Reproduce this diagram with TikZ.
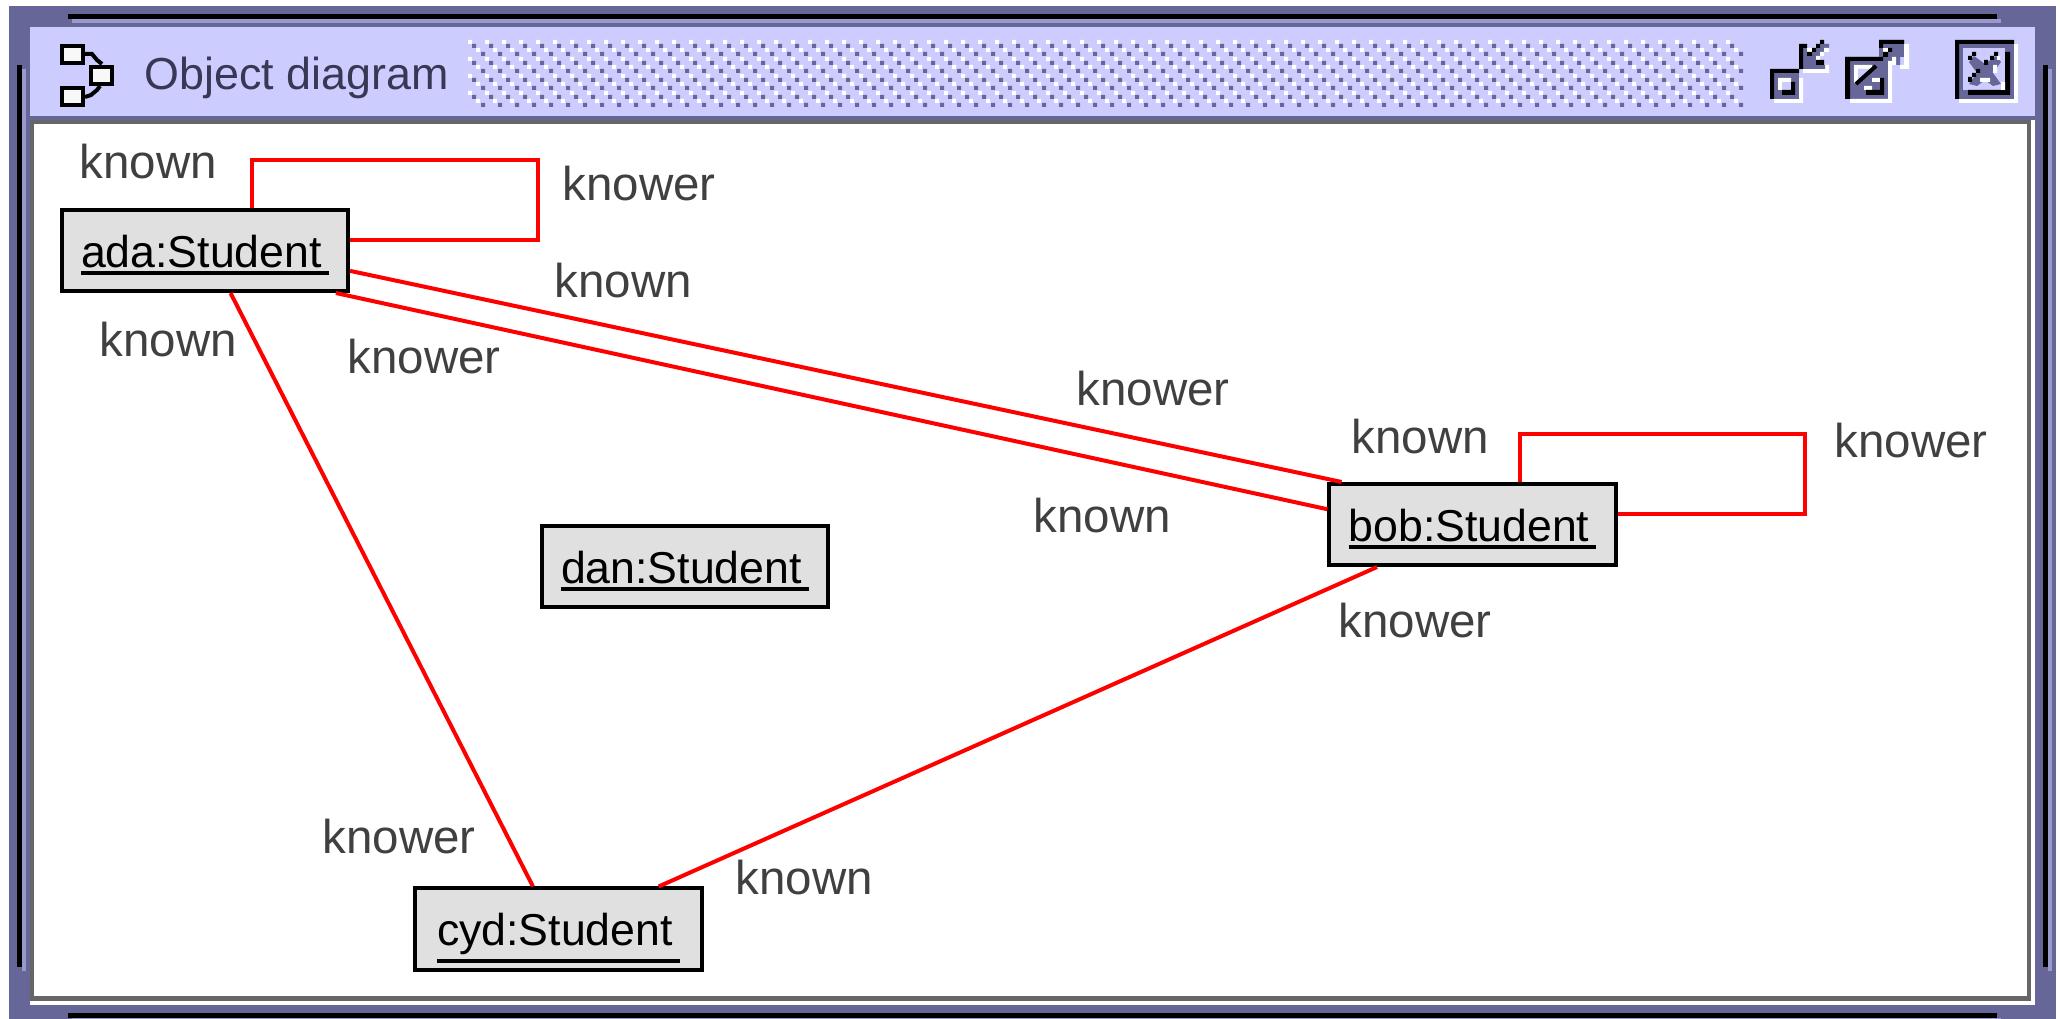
\documentclass[tikz,border=0pt]{standalone}
\usepackage{fontspec}
\setmainfont{Liberation Sans}
\definecolor{framepurple}{HTML}{666699}
\definecolor{framelight}{HTML}{9999CC}
\definecolor{barlilac}{HTML}{CCCCFF}
\definecolor{panegray}{HTML}{666666}
\definecolor{boxgray}{HTML}{E0E0E0}
\definecolor{labelgray}{HTML}{404040}
\definecolor{linkred}{HTML}{FF0000}
\definecolor{iconwhite}{HTML}{F8F8F8}
\newcommand{\objname}[1]{\vtop{\hbox{#1\kern 2pt}\kern 1.1pt\hrule height 1.1pt}}
\begin{document}
\begin{tikzpicture}[x=0.01cm,y=-0.01cm]
\tikzstyle{every node}+=[inner sep=0pt]
\tikzstyle{object}=[draw=black,line width=0.04cm,fill=boxgray,minimum width=2.86cm,minimum height=0.81cm,text height=0.43cm,text depth=0.1cm,font=\fontsize{12.7pt}{14pt}\selectfont]
\tikzstyle{rolelabel}=[anchor=base west,text=labelgray,font=\fontsize{13.5pt}{15pt}\selectfont]
\tikzstyle{link}=[draw=linkred,line width=0.04cm]
\useasboundingbox (0,0) rectangle (2060,1019);
% window frame
\fill [framepurple] (9,6) rectangle (2056,1019);
\fill [black] (68,14) rectangle (1997,19);
\fill [framelight] (72,19) rectangle (2001,23);
\fill [black] (68,1013) rectangle (1997,1018);
\fill [framelight] (72,1018) rectangle (2001,1019);
\fill [black] (17,65) rectangle (22,967);
\fill [framelight] (22,69) rectangle (26,971);
\fill [black] (2043,65) rectangle (2048,967);
\fill [framelight] (2048,69) rectangle (2052,971);
\fill [barlilac] (30,27) rectangle (2035,116);
\fill [white] (30,116) rectangle (2035,1005);
\fill [panegray] (30,120) rectangle (2031,1001);
\fill [framepurple] (30,116) rectangle (2035,120);
\fill [white] (34,124) rectangle (2027,996);
% title bar
\draw [black,line width=0.04cm,fill=iconwhite] (62,46) rectangle (83,63);
\draw [black,line width=0.04cm,fill=iconwhite] (91,67) rectangle (112,84);
\draw [black,line width=0.04cm,fill=iconwhite] (62,88) rectangle (83,105);
\draw [black,line width=0.04cm] (85,54) -- (92,54) -- (97,60) -- (102,64);
\draw [black,line width=0.04cm] (85,97) -- (91,95) -- (97,90) -- (100,86);
\node [anchor=base west,text=framepurple!55!black,font=\fontsize{12.75pt}{15pt}\selectfont] (title) at (144,90) {Object diagram};
\fill [white] \foreach \i in {0,...,74} { \foreach \j in {0,...,3} { ({468+17*\i},{40+17*\j}) rectangle ++(4,4) ({476+17*\i},{48+17*\j}) rectangle ++(4,4) } };
\fill [framepurple] \foreach \i in {0,...,74} { \foreach \j in {0,...,3} { ({472+17*\i},{44+17*\j}) rectangle ++(4,4) ({481+17*\i},{52+17*\j}) rectangle ++(4,4) } };
% minimize
\fill [white] (1774,99) rectangle (1803,103) (1799,78) rectangle (1803,103) (1803,69) rectangle (1829,73) (1825,65) rectangle (1829,73);
\fill [framepurple] (1770,69) rectangle (1799,99);
\fill [black] (1770,69) rectangle (1799,73) (1770,69) rectangle (1774,99);
\fill [white] (1778,78) rectangle (1791,82) (1778,78) rectangle (1782,90);
\fill [barlilac] (1782,82) rectangle (1791,90);
\fill [black] (1791,82) rectangle (1795,95) (1782,90) rectangle (1795,95);
\fill [framepurple] (1820,44) rectangle (1829,48) (1816,48) rectangle (1824,52) (1803,48) rectangle (1807,69) (1807,52) rectangle (1820,56) (1803,56) rectangle (1816,69) (1816,65) rectangle (1825,69);
\fill [white] (1807,48) rectangle (1812,52) (1824,48) rectangle (1829,52) (1820,52) rectangle (1824,56) (1816,56) rectangle (1820,60);
\fill [black] (1799,44) rectangle (1807,48) (1799,44) rectangle (1803,69) (1820,40) rectangle (1824,44) (1816,44) rectangle (1820,48) (1812,48) rectangle (1816,52) (1807,52) rectangle (1812,56) (1816,60) rectangle (1824,65);
% maximize
\fill [framepurple] (1845,57) rectangle (1888,99) (1879,40) rectangle (1904,57) (1879,57) rectangle (1900,65);
\fill [white] (1850,99) rectangle (1892,103) (1888,61) rectangle (1892,103) (1892,57) rectangle (1896,65) (1904,44) rectangle (1909,69) (1900,65) rectangle (1909,69);
\fill [black] (1845,57) rectangle (1883,61) (1845,57) rectangle (1850,99) (1879,40) rectangle (1904,44) (1879,40) rectangle (1883,48);
\fill [white] (1854,65) rectangle (1872,69) (1854,65) rectangle (1858,83);
\fill [barlilac] (1858,69) -- (1871,69) -- (1858,82) -- cycle;
\draw [black,line width=0.04cm] (1856,84) -- (1876,66);
\fill [white] (1883,48) rectangle (1888,52);
\fill [black] (1888,48) rectangle (1892,52) (1883,52) rectangle (1888,57);
\fill [white] (1872,78) rectangle (1880,82) (1864,86) rectangle (1872,90);
\fill [black] (1880,78) rectangle (1884,95) (1866,90) rectangle (1884,95);
% close
\fill [white] (2014,44) rectangle (2018,103) (1959,99) rectangle (2018,103);
\fill [framepurple] (1955,40) rectangle (2014,99);
\fill [black] (1955,40) rectangle (2014,44) (1955,40) rectangle (1959,99);
\fill [barlilac] (1963,48) rectangle (2005,90);
\fill [black] (2005,52) rectangle (2010,95) (1968,90) rectangle (2010,95);
\fill [framepurple] (1974,56) -- (1985,64) -- (1996,56) -- (2001,62) -- (1993,73) -- (2001,84) -- (1993,86) -- (1985,80) -- (1977,86) -- (1969,84) -- (1977,73) -- (1969,62) -- cycle;
\fill [black] (1972,52) rectangle (1976,56) (1968,56) rectangle (1972,60) (1994,52) rectangle (1998,56) (1990,56) rectangle (1994,60) (1984,60) rectangle (1988,65) (1976,69) rectangle (1980,73) (1972,73) rectangle (1976,77) (1968,77) rectangle (1972,82);
\fill [white] (1993,65) rectangle (1997,73) (1980,78) rectangle (1990,82) (2001,82) rectangle (2005,90) (1997,56) rectangle (2000,60);
% objects
\node [object] (ada) at (205,250.5) {\objname{ada:Student}};
\node [object] (bob) at (1472.5,524.5) {\objname{bob:Student}};
\node [object] (cyd) at (558.5,929) {\objname{cyd:Student}};
\node [object] (dan) at (685,566.5) {\objname{dan:Student}};
\coordinate (adacorner) at (538,160);
\coordinate (bobcorner) at (1805,434);
% links
\draw [link] (ada.42.7) |- (adacorner) |- (ada.4.1);
\draw [link] (bob.42.4) |- (bobcorner) |- (bob.4.1);
\draw [link] (ada.-8.6) -- (bob.162.2);
\draw [link] (ada.-18.4) -- (bob.174.3);
\draw [link] (ada.-59.5) -- (cyd.121.3);
\draw [link] (bob.204) -- (cyd.23.1);
% role names
\node [rolelabel] (known1) at (79,178.5) {known};
\node [rolelabel] (knower1) at (562,200.5) {knower};
\node [rolelabel] (known2) at (554,297.5) {known};
\node [rolelabel] (knower2) at (347,373.5) {knower};
\node [rolelabel] (known3) at (99,356.5) {known};
\node [rolelabel] (knower3) at (1076,405.5) {knower};
\node [rolelabel] (known4) at (1351,453.5) {known};
\node [rolelabel] (knower4) at (1834,457.5) {knower};
\node [rolelabel] (known5) at (1033,532.5) {known};
\node [rolelabel] (knower5) at (1338,637.5) {knower};
\node [rolelabel] (knower6) at (322,853.5) {knower};
\node [rolelabel] (known6) at (735,894.5) {known};
\end{tikzpicture}
\end{document}
